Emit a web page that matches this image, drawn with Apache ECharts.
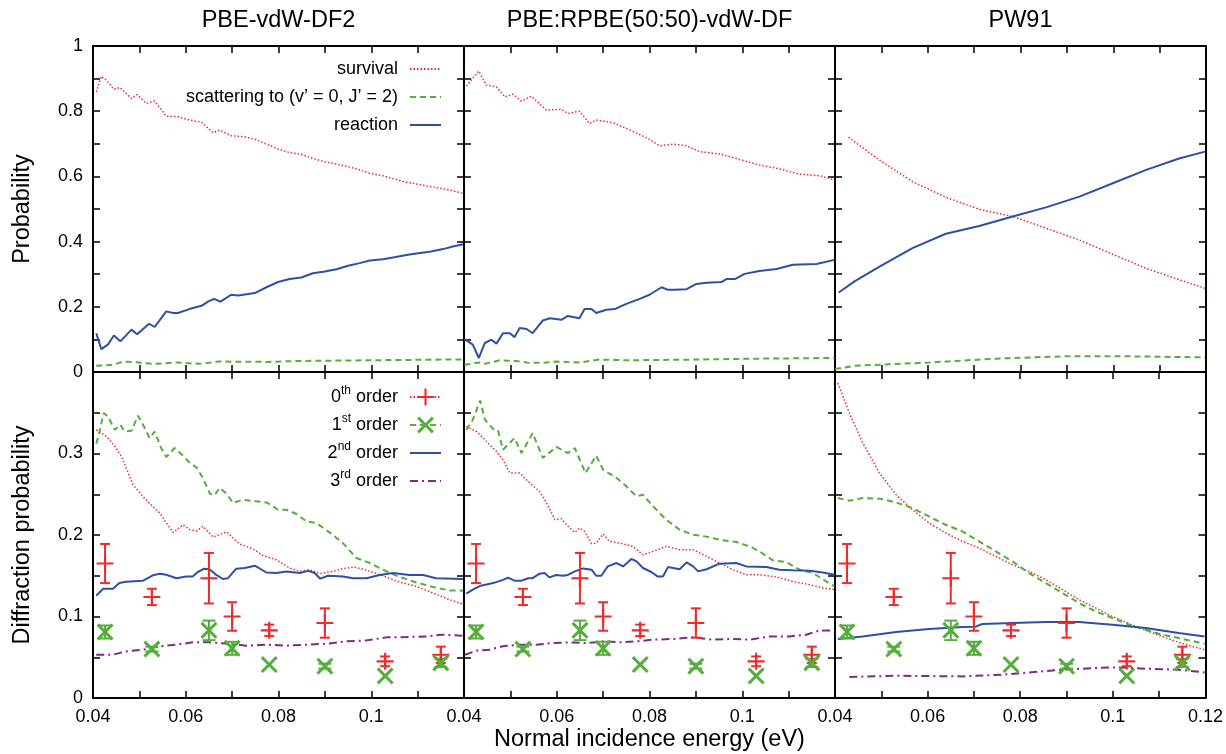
<!DOCTYPE html>
<html><head><meta charset="utf-8">
<script src="https://cdn.jsdelivr.net/npm/echarts@6.0.0/dist/echarts.min.js"></script>
<style>html,body{margin:0;padding:0;background:#fff}#c{width:1226px;height:754px}</style>
</head><body><div id="c"></div><script>
// ---------------- data ----------------
const panelTitles = ['PBE-vdW-DF2', 'PBE:RPBE(50:50)-vdW-DF', 'PW91'];
const xName = 'Normal incidence energy (eV)';
const yNameTop = 'Probability';
const yNameBottom = 'Diffraction probability';

// top row (survival, scattering, reaction)
const surv1 = [[0.0407,0.859],[0.0418,0.907],[0.0429,0.895],[0.0445,0.867],[0.0458,0.873],[0.0468,0.859],[0.0483,0.839],[0.0495,0.851],[0.0515,0.824],[0.0533,0.831],[0.0558,0.785],[0.0583,0.783],[0.0608,0.773],[0.0634,0.766],[0.0659,0.734],[0.0673,0.742],[0.0698,0.725],[0.0723,0.722],[0.0749,0.714],[0.0774,0.699],[0.0799,0.684],[0.0824,0.673],[0.0849,0.668],[0.0874,0.655],[0.090,0.645],[0.0925,0.638],[0.095,0.630],[0.0975,0.620],[0.0997,0.609],[0.1025,0.602],[0.105,0.592],[0.1076,0.582],[0.1101,0.576],[0.1126,0.569],[0.1155,0.562],[0.1176,0.556],[0.1198,0.548]];
const scat1 = [[0.0407,0.019],[0.0443,0.022],[0.0465,0.032],[0.050,0.029],[0.053,0.025],[0.058,0.029],[0.063,0.025],[0.067,0.032],[0.0774,0.031],[0.085,0.034],[0.0997,0.036],[0.115,0.038],[0.1198,0.038]];
const reac1 = [[0.0407,0.119],[0.0418,0.070],[0.0432,0.084],[0.0445,0.112],[0.0459,0.094],[0.0483,0.130],[0.0495,0.116],[0.0521,0.148],[0.0533,0.138],[0.0558,0.186],[0.0573,0.181],[0.0583,0.181],[0.0608,0.193],[0.0634,0.203],[0.0648,0.216],[0.0661,0.2245],[0.0675,0.216],[0.0698,0.237],[0.0713,0.235],[0.0749,0.242],[0.0774,0.260],[0.0799,0.276],[0.0824,0.285],[0.0849,0.290],[0.0874,0.303],[0.090,0.308],[0.0925,0.315],[0.095,0.326],[0.0975,0.334],[0.0997,0.342],[0.1025,0.346],[0.105,0.352],[0.1076,0.359],[0.1101,0.364],[0.1126,0.369],[0.1155,0.377],[0.1176,0.385],[0.1198,0.392]];

const surv2 = [[0.0405,0.877],[0.0432,0.923],[0.0448,0.880],[0.047,0.875],[0.0488,0.844],[0.0506,0.852],[0.0524,0.831],[0.0545,0.846],[0.0578,0.803],[0.061,0.806],[0.0624,0.793],[0.0649,0.800],[0.0671,0.762],[0.0685,0.773],[0.0721,0.765],[0.075,0.747],[0.0793,0.719],[0.0822,0.694],[0.0851,0.699],[0.088,0.694],[0.0908,0.676],[0.0951,0.669],[0.0994,0.652],[0.1037,0.635],[0.108,0.623],[0.1123,0.607],[0.1167,0.602],[0.1199,0.589]];
const scat2 = [[0.0401,0.022],[0.0432,0.029],[0.0445,0.025],[0.0477,0.036],[0.0512,0.034],[0.054,0.028],[0.057,0.028],[0.0599,0.032],[0.0649,0.029],[0.069,0.038],[0.075,0.036],[0.089,0.038],[0.1037,0.041],[0.1199,0.043]];
const reac2 = [[0.0401,0.101],[0.0419,0.084],[0.0432,0.043],[0.0445,0.089],[0.0459,0.099],[0.047,0.087],[0.0484,0.119],[0.0499,0.119],[0.0509,0.107],[0.052,0.135],[0.0535,0.132],[0.0548,0.119],[0.057,0.158],[0.0585,0.165],[0.061,0.160],[0.0624,0.172],[0.0649,0.165],[0.066,0.193],[0.0675,0.193],[0.0685,0.181],[0.0707,0.191],[0.0725,0.193],[0.075,0.209],[0.0779,0.2245],[0.08,0.237],[0.0826,0.260],[0.084,0.252],[0.0854,0.252],[0.088,0.254],[0.0901,0.270],[0.0923,0.274],[0.0955,0.276],[0.0966,0.285],[0.0984,0.285],[0.1005,0.301],[0.1037,0.310],[0.1074,0.316],[0.1109,0.329],[0.116,0.331],[0.1199,0.344]];

const surv3 = [[0.0429,0.720],[0.0496,0.650],[0.0567,0.584],[0.0639,0.536],[0.0711,0.499],[0.0783,0.477],[0.0855,0.441],[0.0927,0.405],[0.0999,0.361],[0.1071,0.318],[0.1142,0.283],[0.1198,0.257]];
const scat3 = [[0.040,0.009],[0.0442,0.019],[0.0603,0.029],[0.0747,0.041],[0.0891,0.048],[0.1035,0.048],[0.1198,0.045]];
const reac3 = [[0.0408,0.244],[0.0442,0.278],[0.0496,0.323],[0.0567,0.380],[0.0639,0.424],[0.0711,0.448],[0.0783,0.477],[0.0855,0.505],[0.0927,0.538],[0.0999,0.579],[0.1071,0.620],[0.1142,0.655],[0.1198,0.676]];

// bottom row (diffraction orders)
const ord0_1 = [[0.0407,0.329],[0.0429,0.321],[0.0447,0.309],[0.0461,0.2965],[0.0476,0.276],[0.0486,0.262],[0.0508,0.247],[0.0529,0.235],[0.0544,0.227],[0.0558,0.215],[0.0573,0.203],[0.0594,0.2126],[0.0609,0.2065],[0.0623,0.205],[0.0637,0.2106],[0.0659,0.1975],[0.0688,0.2037],[0.0716,0.189],[0.0745,0.183],[0.0767,0.1746],[0.0795,0.1697],[0.0824,0.1595],[0.0846,0.1554],[0.0867,0.1575],[0.0889,0.1525],[0.0917,0.1554],[0.0939,0.1587],[0.0964,0.1607],[0.099,0.1566],[0.1025,0.150],[0.1061,0.1423],[0.1097,0.137],[0.1133,0.1288],[0.1169,0.1206],[0.1198,0.1153]];
const ord1_1 = [[0.0407,0.312],[0.0414,0.327],[0.0423,0.3497],[0.0432,0.3455],[0.0447,0.329],[0.0459,0.3353],[0.0468,0.327],[0.0483,0.328],[0.0497,0.3464],[0.0508,0.3353],[0.0522,0.319],[0.0533,0.327],[0.0547,0.3067],[0.0558,0.2957],[0.0576,0.3067],[0.0594,0.2973],[0.0609,0.2883],[0.0623,0.283],[0.0637,0.270],[0.0652,0.2507],[0.0662,0.2486],[0.0673,0.2577],[0.0688,0.2507],[0.0702,0.2393],[0.0723,0.2433],[0.0752,0.2413],[0.0774,0.240],[0.0799,0.231],[0.0817,0.231],[0.0839,0.2258],[0.086,0.2167],[0.0882,0.2147],[0.091,0.2032],[0.0939,0.190],[0.0968,0.1718],[0.0997,0.1656],[0.1025,0.1574],[0.1061,0.1485],[0.1097,0.1418],[0.1133,0.1362],[0.1169,0.132],[0.1198,0.1317]];
const ord2_1 = [[0.0407,0.1255],[0.0422,0.134],[0.0443,0.134],[0.0457,0.141],[0.0471,0.1427],[0.0508,0.144],[0.0529,0.1505],[0.0544,0.1525],[0.0558,0.1513],[0.058,0.147],[0.0601,0.149],[0.0615,0.149],[0.0626,0.1546],[0.064,0.1587],[0.0651,0.158],[0.0666,0.151],[0.068,0.146],[0.0691,0.147],[0.0709,0.1587],[0.0727,0.1595],[0.0749,0.1623],[0.0774,0.154],[0.0795,0.1533],[0.0817,0.1553],[0.0846,0.1533],[0.0864,0.156],[0.0878,0.1533],[0.089,0.1464],[0.0907,0.150],[0.0939,0.149],[0.0961,0.147],[0.099,0.147],[0.1018,0.151],[0.1047,0.1533],[0.1083,0.151],[0.1112,0.151],[0.114,0.147],[0.1198,0.146]];
const ord3_1 = [[0.0407,0.0531],[0.0443,0.0531],[0.0471,0.0572],[0.0508,0.0593],[0.0544,0.0634],[0.058,0.0654],[0.0615,0.0683],[0.0651,0.0683],[0.0694,0.0666],[0.073,0.0642],[0.0774,0.0654],[0.0817,0.0642],[0.086,0.0654],[0.0903,0.0666],[0.0946,0.0695],[0.099,0.0707],[0.1033,0.0744],[0.1076,0.0748],[0.1119,0.0756],[0.1155,0.0777],[0.1198,0.0764]];

const ord0_2 = [[0.0405,0.3333],[0.0427,0.327],[0.0448,0.315],[0.047,0.3026],[0.0484,0.2924],[0.0499,0.276],[0.052,0.276],[0.0542,0.2638],[0.0563,0.2535],[0.0578,0.2393],[0.0596,0.2188],[0.061,0.220],[0.0621,0.2126],[0.0639,0.2032],[0.0649,0.2086],[0.066,0.2044],[0.0675,0.1893],[0.0685,0.190],[0.07,0.2012],[0.0714,0.1922],[0.0736,0.190],[0.0764,0.186],[0.0786,0.1758],[0.0808,0.180],[0.0836,0.186],[0.0865,0.182],[0.0894,0.182],[0.0923,0.1738],[0.0951,0.1656],[0.098,0.1574],[0.1009,0.1513],[0.1037,0.1513],[0.1074,0.1485],[0.1109,0.143],[0.1145,0.139],[0.1174,0.135],[0.1199,0.133]];
const ord1_2 = [[0.0405,0.329],[0.0419,0.3415],[0.0435,0.365],[0.0445,0.3415],[0.0463,0.330],[0.0473,0.329],[0.0484,0.3046],[0.0509,0.319],[0.0524,0.3006],[0.0548,0.325],[0.057,0.2945],[0.0599,0.308],[0.0624,0.3006],[0.0639,0.3067],[0.0662,0.276],[0.0685,0.2973],[0.07,0.280],[0.0729,0.270],[0.075,0.2597],[0.0772,0.2474],[0.0786,0.2494],[0.0808,0.235],[0.0836,0.2188],[0.0865,0.2065],[0.0894,0.2004],[0.0923,0.198],[0.0951,0.1942],[0.0987,0.1914],[0.1016,0.186],[0.1037,0.180],[0.1066,0.1688],[0.1095,0.1668],[0.1124,0.1574],[0.1153,0.1533],[0.1181,0.143],[0.1199,0.137]];
const ord2_2 = [[0.0405,0.128],[0.0419,0.1329],[0.0436,0.1378],[0.0463,0.141],[0.0484,0.145],[0.0495,0.1476],[0.0509,0.144],[0.0524,0.144],[0.0538,0.147],[0.0548,0.147],[0.0563,0.1525],[0.0574,0.1533],[0.0584,0.148],[0.0599,0.151],[0.0613,0.150],[0.0624,0.151],[0.0639,0.1554],[0.0657,0.159],[0.0675,0.1574],[0.0685,0.150],[0.0696,0.150],[0.071,0.1615],[0.0729,0.1656],[0.0743,0.1615],[0.0761,0.1706],[0.0772,0.1676],[0.0786,0.1595],[0.0804,0.1546],[0.0818,0.149],[0.0829,0.149],[0.084,0.1607],[0.0865,0.158],[0.088,0.1664],[0.0894,0.1615],[0.0905,0.1554],[0.0923,0.158],[0.0951,0.1648],[0.0987,0.1656],[0.1009,0.1615],[0.1052,0.1607],[0.108,0.1574],[0.1109,0.1566],[0.1145,0.156],[0.1174,0.154],[0.1199,0.1513]];
const ord3_2 = [[0.0402,0.0531],[0.0427,0.058],[0.0455,0.0593],[0.0484,0.0634],[0.052,0.0654],[0.0556,0.0654],[0.0592,0.0675],[0.0628,0.0683],[0.0664,0.0675],[0.07,0.0695],[0.0736,0.0683],[0.0772,0.0695],[0.0808,0.0716],[0.0851,0.0724],[0.0894,0.0744],[0.0937,0.0716],[0.098,0.0724],[0.1016,0.0716],[0.1059,0.0756],[0.1102,0.0756],[0.1138,0.0777],[0.1167,0.083],[0.1199,0.0826]];

const ord0_3 = [[0.0406,0.3865],[0.0431,0.3497],[0.046,0.313],[0.0496,0.276],[0.0532,0.2494],[0.0567,0.231],[0.0603,0.2147],[0.0639,0.2025],[0.0675,0.1922],[0.0711,0.184],[0.0747,0.1738],[0.0783,0.1636],[0.0819,0.1554],[0.0855,0.1452],[0.0891,0.133],[0.0927,0.1206],[0.0963,0.1104],[0.0999,0.1001],[0.1035,0.0912],[0.1071,0.083],[0.1106,0.0756],[0.1142,0.0683],[0.1171,0.0634],[0.1198,0.0593]];
const ord1_3 = [[0.0406,0.2454],[0.0431,0.242],[0.046,0.2454],[0.0496,0.2446],[0.0532,0.240],[0.0567,0.233],[0.0603,0.2228],[0.0639,0.2126],[0.0675,0.2044],[0.0711,0.1922],[0.0747,0.180],[0.0783,0.1676],[0.0819,0.1533],[0.0855,0.141],[0.0891,0.1288],[0.0927,0.1166],[0.0963,0.1063],[0.0999,0.0982],[0.1035,0.090],[0.1071,0.0838],[0.1106,0.0777],[0.1142,0.0736],[0.1198,0.0666]];
const ord2_3 = [[0.0406,0.0724],[0.046,0.0756],[0.0532,0.081],[0.0603,0.0847],[0.0675,0.0871],[0.0704,0.0875],[0.0718,0.0908],[0.0783,0.092],[0.0855,0.0932],[0.0927,0.0932],[0.0999,0.090],[0.1071,0.0859],[0.1142,0.0798],[0.1198,0.0756]];
const ord3_3 = [[0.0431,0.0258],[0.0532,0.0273],[0.0675,0.0265],[0.0761,0.0286],[0.0819,0.0314],[0.0891,0.0347],[0.0963,0.0368],[0.1006,0.0376],[0.1071,0.036],[0.1142,0.0347],[0.1198,0.0314]];

// experiment (same in every panel)
const expE    = [0.0426, 0.0527, 0.065, 0.070, 0.078, 0.090, 0.103, 0.115];
const exp0    = [0.165, 0.124, 0.147, 0.100, 0.083, 0.092, 0.045, 0.053];
const exp0Err = [0.024, 0.010, 0.031, 0.0175, 0.007, 0.018, 0.006, 0.010];
const exp1    = [0.081, 0.060, 0.083, 0.061, 0.041, 0.039, 0.027, 0.043];
const exp1Err = [0.008, 0.003, 0.012, 0.008, 0.0, 0.003, 0.0, 0.005];

const topNames = ['survival', 'scattering to (v\u2019 = 0, J\u2019 = 2)', 'reaction'];
const botNames = ['0th order', '1st order', '2nd order', '3rd order'];
const botLabels = ['0{s|th} order', '1{s|st} order', '2{s|nd} order', '3{s|rd} order'];

const topData = [[surv1, scat1, reac1], [surv2, scat2, reac2], [surv3, scat3, reac3]];
const botData = [[ord0_1, ord1_1, ord2_1, ord3_1], [ord0_2, ord1_2, ord2_2, ord3_2], [ord0_3, ord1_3, ord2_3, ord3_3]];

// ---------------- style ----------------
const FONT = "'Liberation Sans', Arial, Helvetica, sans-serif";
const RED = '#ee2a2a', GREEN = '#55ae3c', BLUE = '#2f4fa5', PURPLE = '#7d2a86';
const PLUS = 'path://M7,0H9V7H16V9H9V16H7V9H0V7H7Z';
const CROSS = 'path://M0,2L2,0L8,6L14,0L16,2L10,8L16,14L14,16L8,10L2,16L0,14L6,8Z';
const panelLeft = [93, 464, 835], panelW = 371, rowTop = [46, 372], panelH = 326;

const grids = [], xAxes = [], yAxes = [], series = [];
function baseAxis() {
  return {
    axisLine: { show: true, onZero: false, lineStyle: { color: '#000', width: 2 } },
    axisTick: { show: true, inside: true, length: 7, lineStyle: { color: '#000', width: 1.5 } },
    splitLine: { show: false },
    nameTextStyle: { fontSize: 23.5, color: '#000', fontFamily: FONT }
  };
}
const lblStyle = { fontSize: 18, color: '#000', fontFamily: FONT };

for (let row = 0; row < 2; row++) {
  for (let col = 0; col < 3; col++) {
    const g = row * 3 + col;
    grids.push({ left: panelLeft[col], top: rowTop[row], width: panelW, height: panelH, containLabel: false });
    xAxes.push(Object.assign(baseAxis(), {
      type: 'value', gridIndex: g, position: 'bottom', min: 0.04, max: 0.12, interval: 0.01,
      axisLabel: Object.assign({ show: row === 1, margin: 10, formatter: function (v) {
        const k = Math.round(v * 100);
        if (k % 2) return '';
        if (k === 12 && col < 2) return '';
        return String(k / 100);
      } }, lblStyle),
      name: (row === 1 && col === 1) ? xName : '', nameLocation: 'middle', nameGap: 30
    }));
    xAxes.push(Object.assign(baseAxis(), {
      type: 'value', gridIndex: g, position: 'top', min: 0.04, max: 0.12, interval: 0.01,
      axisLabel: { show: false },
      name: row === 0 ? panelTitles[col] : '', nameLocation: 'middle', nameGap: 13
    }));
    const ymax = row === 0 ? 1 : 0.4, yint = row === 0 ? 0.1 : 0.05;
    yAxes.push(Object.assign(baseAxis(), {
      type: 'value', gridIndex: g, position: 'left', min: 0, max: ymax, interval: yint,
      axisLabel: Object.assign({ show: col === 0, margin: 10, formatter: function (v) {
        if (row === 0) { const k = Math.round(v * 10); return k % 2 ? '' : String(k / 10); }
        const k = Math.round(v * 100);
        if (k % 10 || k === 40) return '';
        return String(k / 100);
      } }, lblStyle),
      name: col === 0 ? (row === 0 ? yNameTop : yNameBottom) : '', nameLocation: 'middle', nameGap: 58
    }));
    yAxes.push(Object.assign(baseAxis(), {
      type: 'value', gridIndex: g, position: 'right', min: 0, max: ymax, interval: yint,
      axisLabel: { show: false }
    }));
  }
}

function lineSeries(g, name, data, color, type, width, symbol) {
  return {
    type: 'line', name: name, xAxisIndex: 2 * g, yAxisIndex: 2 * g, data: data,
    showSymbol: false, symbol: symbol || 'none', symbolSize: 14, silent: true,
    lineStyle: { color: color, width: width, type: type }, itemStyle: { color: color },
    z: 3
  };
}
function errSeries(g, ys, errs, color, capW) {
  return {
    type: 'custom', xAxisIndex: 2 * g, yAxisIndex: 2 * g, z: 5, silent: true,
    data: expE.map((x, i) => [x, ys[i], errs[i]]),
    renderItem: function (params, api) {
      const x = api.value(0), y = api.value(1), e = api.value(2);
      if (!(e > 0)) return { type: 'group', children: [] };
      const p1 = api.coord([x, y + e]), p2 = api.coord([x, y - e]);
      const st = { stroke: color, lineWidth: 2 };
      return { type: 'group', children: [
        { type: 'line', shape: { x1: p1[0], y1: p1[1], x2: p2[0], y2: p2[1] }, style: st },
        { type: 'line', shape: { x1: p1[0] - capW, y1: p1[1], x2: p1[0] + capW, y2: p1[1] }, style: st },
        { type: 'line', shape: { x1: p2[0] - capW, y1: p2[1], x2: p2[0] + capW, y2: p2[1] }, style: st }
      ] };
    }
  };
}
function markerSeries(g, ys, color, symbol, size) {
  return {
    type: 'scatter', xAxisIndex: 2 * g, yAxisIndex: 2 * g, z: 6, silent: true,
    data: expE.map((x, i) => [x, ys[i]]), symbol: symbol, symbolSize: size,
    itemStyle: { color: color, opacity: 1 }
  };
}

for (let col = 0; col < 3; col++) {
  const t = topData[col];
  series.push(lineSeries(col, topNames[0], t[0], RED, [1.5, 2], 1.5));
  series.push(lineSeries(col, topNames[1], t[1], GREEN, [6, 4], 2));
  series.push(lineSeries(col, topNames[2], t[2], BLUE, 'solid', 2));
  const b = botData[col], g = col + 3;
  series.push(lineSeries(g, botNames[0], b[0], RED, [1.5, 2], 1.5, PLUS));
  series.push(lineSeries(g, botNames[1], b[1], GREEN, [6, 4], 2, CROSS));
  series.push(lineSeries(g, botNames[2], b[2], BLUE, 'solid', 2));
  series.push(lineSeries(g, botNames[3], b[3], PURPLE, [8, 4, 2, 4], 2));
  series.push(errSeries(g, exp0, exp0Err, RED, 5));
  series.push(markerSeries(g, exp0, RED, PLUS, 17));
  series.push(errSeries(g, exp1, exp1Err, GREEN, 6.5));
  series.push(markerSeries(g, exp1, GREEN, CROSS, 17));
}

const legendRight = 1226 - 442;
function mkLegend(name, label, top, markerColor) {
  return {
    data: [name], orient: 'vertical', align: 'right', right: legendRight, top: top, padding: 0,
    itemWidth: 31, itemHeight: 21, selectedMode: false,
    textStyle: { fontSize: 18, color: '#000', fontFamily: FONT, lineHeight: 24, padding: [0, 7, 0, 0],
      rich: { s: { fontSize: 12, color: '#000', fontFamily: FONT, verticalAlign: 'top', lineHeight: 24 } } },
    itemStyle: markerColor ? { color: markerColor, borderWidth: 0, opacity: 1 } : { opacity: 0 },
    formatter: function () { return label; }
  };
}
const legends = [
  mkLegend(topNames[0], topNames[0], 57),
  mkLegend(topNames[1], topNames[1], 85),
  mkLegend(topNames[2], topNames[2], 113),
  mkLegend(botNames[0], botLabels[0], 385, RED),
  mkLegend(botNames[1], botLabels[1], 413, GREEN),
  mkLegend(botNames[2], botLabels[2], 441),
  mkLegend(botNames[3], botLabels[3], 469)
];

const chart = echarts.init(document.getElementById('c'), null, { renderer: 'canvas' });
chart.setOption({
  animation: false,
  backgroundColor: '#fff',
  textStyle: { fontFamily: FONT },
  grid: grids, xAxis: xAxes, yAxis: yAxes, legend: legends, series: series
});
</script></body></html>
